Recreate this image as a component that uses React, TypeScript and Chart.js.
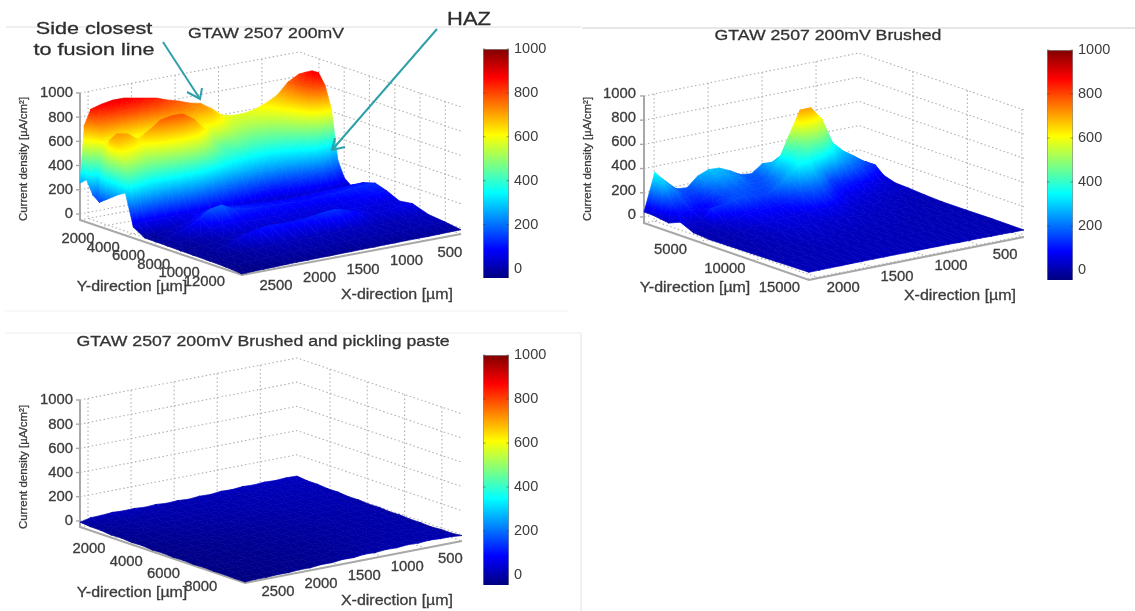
import { useEffect, useRef } from "react";
import { Chart, registerables } from "chart.js";

Chart.register(...registerables);

// ---------- data ----------
const Z_TICKS = [0, 200, 400, 600, 800, 1000];
const COLORBAR_TICKS = [0, 200, 400, 600, 800, 1000];

const P1_TITLE = "GTAW 2507 200mV";
const P1_X_TICKS = [500, 1000, 1500, 2000, 2500];
const P1_Y_TICKS = [2000, 4000, 6000, 8000, 10000, 12000];
const P1_X = [74, 200, 326, 452, 578, 704, 830, 955, 1081, 1207, 1333, 1459, 1585, 1711, 1837, 1963, 2089, 2215, 2341, 2467, 2543, 2593];
const P1_Y = [423, 936, 1449, 1961, 2474, 2987, 3500, 4013, 4654, 5551, 6448, 7346, 8371, 9397, 10679, 11961, 13243];
const P1_Z = [
  [818, 768, 677, 628, 595, 578, 578, 595, 669, 727, 747, 780, 806, 839, 856, 873, 890, 890, 875, 850, 727, 255],
  [850, 790, 680, 610, 575, 555, 555, 575, 640, 700, 715, 745, 760, 780, 790, 800, 810, 810, 800, 750, 500, 300],
  [880, 800, 670, 590, 545, 520, 520, 540, 590, 640, 650, 660, 670, 650, 620, 620, 600, 590, 600, 600, 200, 190],
  [884, 790, 640, 540, 490, 470, 465, 480, 520, 560, 590, 620, 660, 690, 700, 690, 640, 600, 640, 640, 500, 150],
  [800, 740, 590, 500, 440, 420, 410, 420, 450, 420, 480, 622, 722, 780, 781, 764, 699, 633, 700, 717, 680, 190],
  [620, 600, 490, 410, 360, 340, 330, 340, 360, 380, 420, 500, 600, 650, 660, 650, 600, 560, 620, 660, 650, 230],
  [214, 330, 360, 310, 270, 250, 240, 240, 260, 280, 310, 370, 450, 500, 510, 500, 470, 450, 500, 560, 560, 270],
  [86, 150, 190, 170, 150, 130, 110, 110, 130, 150, 170, 200, 230, 270, 290, 290, 280, 280, 320, 380, 420, 300],
  [33, 40, 50, 50, 50, 45, 40, 35, 35, 40, 50, 60, 65, 70, 70, 70, 70, 70, 70, 70, 60, 40],
  [103, 100, 95, 90, 85, 80, 80, 80, 85, 90, 95, 100, 110, 120, 115, 90, 50, 25, 10, -5, -15, -17],
  [130, 125, 118, 110, 105, 100, 95, 95, 100, 100, 105, 110, 120, 135, 185, 170, 110, 60, 25, 0, -15, -18],
  [100, 95, 85, 75, 65, 60, 55, 55, 55, 60, 60, 60, 60, 65, 80, 70, 45, 20, 0, -10, -18, -20],
  [50, 50, 50, 55, 60, 60, 55, 50, 45, 40, 35, 35, 30, 30, 25, 20, 5, -5, -12, -18, -20, -22],
  [65, 60, 50, 45, 50, 80, 110, 135, 130, 115, 105, 100, 100, 105, 95, 70, 35, 5, -10, -18, -22, -24],
  [20, 20, 15, 10, 10, 15, 20, 20, 20, 15, 15, 15, 15, 15, 10, 5, -5, -12, -18, -22, -24, -26],
  [5, 5, 3, 2, 0, 0, 0, 0, 0, 0, -2, -4, -5, -6, -8, -10, -14, -18, -22, -26, -28, -30],
  [-15, -16, -18, -20, -20, -20, -22, -22, -24, -24, -26, -26, -28, -28, -30, -30, -32, -34, -36, -38, -40, -42],
];

const P2_TITLE = "GTAW 2507 200mV Brushed";
const P2_X_TICKS = [500, 1000, 1500, 2000];
const P2_Y_TICKS = [5000, 10000, 15000];
const P2_X = [102, 202, 301, 401, 500, 600, 700, 799, 899, 998, 1098, 1198, 1297, 1397, 1496, 1596, 1696, 1795, 1895, 1994, 2094];
const P2_Y = [50, 808, 1565, 2323, 3383, 4595, 6110, 7625, 9898, 12170, 15200];
const P2_Z = [
  [120, 140, 170, 220, 260, 280, 280, 260, 240, 245, 180, 190, 240, 280, 285, 250, 170, 180, 260, 350, 40],
  [120, 150, 200, 280, 370, 450, 480, 430, 320, 270, 170, 170, 220, 250, 260, 220, 140, 150, 220, 300, 40],
  [121, 165, 230, 290, 375, 590, 700, 700, 512, 320, 190, 160, 180, 200, 210, 180, 110, 110, 150, 150, 30],
  [60, 100, 150, 200, 260, 380, 500, 520, 430, 310, 210, 160, 160, 170, 170, 150, 90, 70, 100, 80, 20],
  [30, 40, 60, 80, 100, 120, 150, 260, 350, 340, 260, 190, 150, 150, 165, 160, 130, 120, 40, 30, 60],
  [25, 28, 32, 40, 50, 60, 70, 110, 170, 190, 160, 120, 95, 90, 90, 80, 60, 40, 20, 10, 10],
  [15, 15, 18, 20, 25, 30, 35, 45, 60, 70, 70, 60, 55, 55, 55, 45, 30, 20, 10, 5, 0],
  [8, 10, 12, 15, 18, 20, 22, 25, 30, 35, 35, 35, 40, 40, 35, 30, 20, 15, 8, 5, 2],
  [8, 8, 10, 10, 12, 12, 15, 15, 18, 18, 18, 18, 20, 22, 20, 18, 12, 10, 8, 6, 5],
  [10, 8, 10, 10, 10, 12, 12, 12, 14, 14, 14, 14, 15, 15, 15, 12, 12, 10, 10, 8, 8],
  [8, 8, 10, 10, 12, 12, 12, 14, 14, 15, 15, 15, 16, 16, 16, 16, 16, 15, 15, 14, 14],
];

const P3_TITLE = "GTAW 2507 200mV Brushed and pickling paste";
const P3_X_TICKS = [500, 1000, 1500, 2000, 2500];
const P3_Y_TICKS = [2000, 4000, 6000, 8000];
const P3_X = [74, 200, 326, 452, 578, 704, 830, 955, 1081, 1207, 1333, 1459, 1585, 1711, 1837, 1963, 2089, 2215, 2341, 2467, 2593];
const P3_Y = [230, 783, 1336, 1889, 2443, 2996, 3549, 4102, 4655, 5208, 5761, 6314, 6868, 7421, 7974, 8527, 9080];
const P3_Z = [
  [24, 27, 22, 26, 20, 24, 16, 20, 10, 14, 6, 12, 8, 15, 10, 17, 14, 19, 12, 10, -10],
  [14, 13, 12, 11, 10, 9, 8, 7, 6, 5, 3, 2, 1, 0, -1, -3, -5, -8, -11, -15, -18],
  [14, 12, 11, 10, 9, 8, 7, 6, 5, 3, 2, 1, 0, -1, -3, -5, -7, -10, -13, -16, -20],
  [6, 10, 9, 8, 7, 6, 5, 4, 2, 1, 0, -2, -3, -5, -7, -9, -12, -15, -19, -24, -29],
  [7, 8, 7, 6, 5, 4, 3, 1, 0, -2, -3, -5, -7, -9, -11, -13, -15, -18, -20, -22, -26],
  [-2, 6, 5, 4, 3, 2, 0, -1, -3, -5, -7, -9, -11, -13, -15, -17, -20, -23, -26, -30, -33],
  [0, 4, 3, 2, 1, 0, -2, -4, -6, -8, -10, -12, -14, -16, -18, -20, -22, -24, -26, -27, -30],
  [-7, 3, 2, 0, -1, -3, -5, -7, -9, -11, -13, -15, -17, -19, -21, -23, -25, -28, -31, -35, -37],
  [-4, 2, 1, -1, -3, -5, -7, -9, -12, -14, -16, -18, -20, -22, -24, -26, -27, -28, -29, -30, -34],
  [-11, 1, 0, -2, -4, -6, -9, -11, -13, -15, -17, -19, -21, -23, -25, -27, -29, -32, -35, -38, -39],
  [-9, 0, -1, -3, -5, -8, -10, -12, -14, -16, -18, -20, -22, -24, -26, -28, -29, -30, -31, -32, -36],
  [-15, 0, -2, -3, -6, -8, -10, -12, -15, -17, -19, -21, -23, -25, -27, -29, -31, -34, -37, -40, -41],
  [-14, 1, -1, -2, -4, -6, -9, -12, -15, -18, -20, -22, -24, -26, -28, -30, -31, -32, -33, -34, -38],
  [-19, 2, 0, -1, -3, -5, -8, -11, -14, -17, -20, -23, -25, -27, -29, -31, -33, -35, -37, -40, -41],
  [-13, 3, 1, 0, -2, -4, -7, -10, -13, -16, -19, -22, -25, -28, -30, -32, -34, -35, -36, -37, -39],
  [-14, 4, 2, 2, -1, -2, -5, -8, -11, -14, -18, -22, -25, -28, -31, -33, -35, -37, -39, -41, -42],
  [-5, 3, 4, 9, 2, 6, -2, 1, -7, -4, -14, -12, -21, -20, -29, -28, -34, -33, -38, -37, -42],
];

const NOTE_FUSION = ["Side closest", "to fusion line"];
const NOTE_HAZ = "HAZ";
const Z_LABEL = "Current density [µA/cm²]";
const X_LABEL = "X-direction [µm]";
const Y_LABEL = "Y-direction [µm]";

// ---------- layout ----------
const W = 1135;
const H = 611;
const Z_FLOOR = -50;
const Z_TOP = 1000;
const Z_PX = 0.121;
const C_MIN = -45;
const C_MAX = 1000;
const INK = "#3c3c3c";
const FONT = '"Liberation Sans", Arial, sans-serif';
const SOFTEN = "blur(0.6px)";

const PANELS = [
  {
    title: P1_TITLE, titleAt: [266, 34], X: P1_X, Y: P1_Y, Z: P1_Z, xTicks: P1_X_TICKS, yTicks: P1_Y_TICKS,
    B: [299, 179], L: [80, 220], R: [461, 234],
    xMin: 74, xMax: 2593, yMin: 423, yMax: 13243,
    zLabelX: 73, zLabelDy: 0.5, zTitleAt: [24, 159], xOff: [26, 12.5], yOff: [-22, 12.5], xTitleAt: [397, 295], yTitleAt: [132, 287],
    bar: [483, 48.5, 278],
  },
  {
    title: P2_TITLE, titleAt: [828, 36], X: P2_X, Y: P2_Y, Z: P2_Z, xTicks: P2_X_TICKS, yTicks: P2_Y_TICKS,
    B: [859, 180], L: [644, 223], R: [1024, 237],
    xMin: 102, xMax: 2094, yMin: 50, yMax: 15200,
    zLabelX: 636, zLabelDy: -2, zTitleAt: [588, 159], xOff: [24, 9.7], yOff: [-27.5, 8.7], xTitleAt: [960, 296], yTitleAt: [695, 288],
    bar: [1047, 50, 280],
  },
  {
    title: P3_TITLE, titleAt: [263, 342], X: P3_X, Y: P3_Y, Z: P3_Z, xTicks: P3_X_TICKS, yTicks: P3_Y_TICKS,
    B: [297, 485], L: [80, 527], R: [462, 541],
    xMin: 74, xMax: 2593, yMin: 230, yMax: 9080,
    zLabelX: 73, zLabelDy: 0.5, zTitleAt: [24, 467], xOff: [25, 11], yOff: [-24, 11], xTitleAt: [397, 601], yTitleAt: [132, 593],
    bar: [483, 355, 585],
  },
];

const clamp01 = (v: number) => Math.max(0, Math.min(1, v));
const jet = (t: number) => {
  const r = clamp01(1.5 - Math.abs(4 * t - 3));
  const g = clamp01(1.5 - Math.abs(4 * t - 2));
  const b = clamp01(1.5 - Math.abs(4 * t - 1));
  return `rgb(${Math.round(r * 255)},${Math.round(g * 255)},${Math.round(b * 255)})`;
};
const colorT = (z: number) => clamp01((z - C_MIN) / (C_MAX - C_MIN));
const KNOTS = [0, 0.125, 0.375, 0.625, 0.875, 1];

type Pt = { x: number; y: number };

const project = (p: any, X: number, Y: number, Z: number): Pt => {
  const i = (X - p.xMin) / (p.xMax - p.xMin);
  const j = (Y - p.yMin) / (p.yMax - p.yMin);
  return {
    x: p.B[0] + i * (p.L[0] - p.B[0]) + j * (p.R[0] - p.B[0]),
    y: p.B[1] + i * (p.L[1] - p.B[1]) + j * (p.R[1] - p.B[1]) - (Z - Z_FLOOR) * Z_PX,
  };
};

const lineSet = (data: Pt[], color: string, width: number, dash: number[] = []) => ({
  type: "scatter",
  data,
  showLine: true,
  fill: false,
  borderColor: color,
  borderWidth: width,
  borderDash: dash,
  tension: 0,
  pointRadius: 0,
  pointHoverRadius: 0,
  pointBackgroundColor: "transparent",
  pointBorderColor: "transparent",
  clip: false,
});

// a triangle whose fill runs along the true colour gradient of its three z values
const triSet = (pts: Pt[], zs: number[]) => {
  let cached: any = null;
  const paint = (c: any) => {
    if (cached) return cached;
    const chart = c.chart;
    const fallback = jet(colorT((zs[0] + zs[1] + zs[2]) / 3));
    if (!chart.chartArea) return fallback;
    const sx = chart.scales.x;
    const sy = chart.scales.y;
    const px = pts.map((q) => sx.getPixelForValue(q.x));
    const py = pts.map((q) => sy.getPixelForValue(q.y));
    const d = (px[1] - px[0]) * (py[2] - py[0]) - (px[2] - px[0]) * (py[1] - py[0]);
    const zLo = Math.min(...zs);
    const zHi = Math.max(...zs);
    if (Math.abs(d) < 1e-3 || zHi - zLo < 0.5) {
      cached = fallback;
      return cached;
    }
    const a = ((zs[1] - zs[0]) * (py[2] - py[0]) - (zs[2] - zs[0]) * (py[1] - py[0])) / d;
    const b = ((px[1] - px[0]) * (zs[2] - zs[0]) - (px[2] - px[0]) * (zs[1] - zs[0])) / d;
    const n = a * a + b * b;
    const k = zs.indexOf(zLo);
    const x0 = px[k];
    const y0 = py[k];
    const x1 = x0 + ((zHi - zLo) * a) / n;
    const y1 = y0 + ((zHi - zLo) * b) / n;
    const g = chart.ctx.createLinearGradient(x0, y0, x1, y1);
    const tLo = colorT(zLo);
    const tHi = colorT(zHi);
    g.addColorStop(0, jet(tLo));
    if (tHi > tLo) {
      KNOTS.forEach((t) => {
        if (t > tLo && t < tHi) g.addColorStop((t - tLo) / (tHi - tLo), jet(t));
      });
    }
    g.addColorStop(1, jet(tHi));
    cached = g;
    return cached;
  };
  return {
    type: "scatter",
    data: [...pts, pts[0]],
    showLine: true,
    fill: "shape",
    backgroundColor: paint,
    borderColor: paint,
    borderWidth: 0.7,
    tension: 0,
    pointRadius: 0,
    pointHoverRadius: 0,
    pointBackgroundColor: "transparent",
    pointBorderColor: "transparent",
    clip: false,
  };
};

const GRID = "#b0b0b0";
const GRID_DASH = [1.5, 2.5];
const AXIS = "#a8a8a8";

const panelSets = (p: any) => {
  const back: any[] = [];
  const end = (X: number, Y: number, Z: number) => project(p, X, Y, Z);
  // wall and floor grids
  Z_TICKS.forEach((z) => {
    back.push(lineSet([end(p.xMax, p.yMin, z), end(p.xMin, p.yMin, z), end(p.xMin, p.yMax, z)], GRID, 1.1, GRID_DASH));
  });
  p.xTicks.forEach((x: number) => {
    back.push(lineSet([end(x, p.yMin, Z_TOP), end(x, p.yMin, Z_FLOOR), end(x, p.yMax, Z_FLOOR)], GRID, 1.1, GRID_DASH));
  });
  p.yTicks.forEach((y: number) => {
    back.push(lineSet([end(p.xMin, y, Z_TOP), end(p.xMin, y, Z_FLOOR), end(p.xMax, y, Z_FLOOR)], GRID, 1.1, GRID_DASH));
  });
  back.push(lineSet([end(p.xMax, p.yMin, Z_FLOOR), end(p.xMin, p.yMin, Z_FLOOR), end(p.xMin, p.yMax, Z_FLOOR)], GRID, 1.1, GRID_DASH));
  // axis frame
  back.push(lineSet([end(p.xMax, p.yMin, Z_TOP), end(p.xMax, p.yMin, Z_FLOOR), end(p.xMax, p.yMax, Z_FLOOR), end(p.xMin, p.yMax, Z_FLOOR)], AXIS, 2));
  Z_TICKS.forEach((z) => {
    const a = end(p.xMax, p.yMin, z);
    back.push(lineSet([a, { x: a.x - 4, y: a.y }], AXIS, 1.4));
  });
  // surface, far corner first
  for (let j = 0; j < p.Y.length - 1; j++) {
    for (let i = 0; i < p.X.length - 1; i++) {
      const a = end(p.X[i], p.Y[j], p.Z[j][i]);
      const b = end(p.X[i + 1], p.Y[j], p.Z[j][i + 1]);
      const c = end(p.X[i + 1], p.Y[j + 1], p.Z[j + 1][i + 1]);
      const d = end(p.X[i], p.Y[j + 1], p.Z[j + 1][i]);
      back.push(triSet([a, b, c], [p.Z[j][i], p.Z[j][i + 1], p.Z[j + 1][i + 1]]));
      back.push(triSet([a, c, d], [p.Z[j][i], p.Z[j + 1][i + 1], p.Z[j + 1][i]]));
    }
  }
  return back;
};

const TEAL = "#2fa0aa";
const frameSets = () => [
  lineSet([{ x: 6, y: 27 }, { x: 581, y: 27 }], "#dedede", 1),
  lineSet([{ x: 582, y: 28 }, { x: 1135, y: 28 }], "#cfcfcf", 1),
  lineSet([{ x: 5, y: 311 }, { x: 569, y: 311 }], "#f2f2f2", 1),
  lineSet([{ x: 5, y: 333 }, { x: 581, y: 333 }, { x: 581, y: 611 }], "#eeeeee", 1),
];
const overlaySets = () => [
  lineSet([{ x: 163, y: 42 }, { x: 200, y: 99 }], TEAL, 2),
  lineSet([{ x: 187, y: 92 }, { x: 200, y: 99 }, { x: 202, y: 88 }], TEAL, 2),
  lineSet([{ x: 437, y: 29 }, { x: 332, y: 150 }], TEAL, 2),
  lineSet([{ x: 345, y: 147 }, { x: 332, y: 150 }, { x: 335, y: 138 }], TEAL, 2),
];

type Label = { t: string; x: number; y: number; size: number; sx?: number; align?: CanvasTextAlign; rot?: number; color?: string };

const panelLabels = (p: any): Label[] => {
  const out: Label[] = [];
  out.push({ t: p.title, x: p.titleAt[0], y: p.titleAt[1], size: 15.5, sx: 1.14, color: "#333" });
  Z_TICKS.forEach((z) => {
    const a = project(p, p.xMax, p.yMin, z);
    out.push({ t: String(z), x: p.zLabelX, y: a.y + p.zLabelDy, size: 14, sx: 1.06, align: "right" });
  });
  p.xTicks.forEach((x: number) => {
    const a = project(p, x, p.yMax, Z_FLOOR);
    out.push({ t: String(x), x: a.x + p.xOff[0], y: a.y + p.xOff[1], size: 14, sx: 1.06 });
  });
  p.yTicks.forEach((y: number) => {
    const a = project(p, p.xMax, y, Z_FLOOR);
    out.push({ t: String(y), x: a.x + p.yOff[0], y: a.y + p.yOff[1], size: 14, sx: 1.06 });
  });
  out.push({ t: X_LABEL, x: p.xTitleAt[0], y: p.xTitleAt[1], size: 14, sx: 1.14 });
  out.push({ t: Y_LABEL, x: p.yTitleAt[0], y: p.yTitleAt[1], size: 14, sx: 1.14 });
  out.push({ t: Z_LABEL, x: p.zTitleAt[0], y: p.zTitleAt[1], size: 11.5, rot: -Math.PI / 2 });
  return out;
};

const labelPlugin = (labels: Label[]) => ({
  id: "labels3d",
  afterDatasetsDraw(chart: any) {
    const { ctx, scales } = chart;
    labels.forEach((l) => {
      ctx.save();
      ctx.translate(scales.x.getPixelForValue(l.x), scales.y.getPixelForValue(l.y));
      if (l.rot) ctx.rotate(l.rot);
      ctx.scale(l.sx ?? 1, 1);
      ctx.font = `${l.size}px ${FONT}`;
      ctx.fillStyle = l.color ?? INK;
      ctx.strokeStyle = l.color ?? INK;
      ctx.lineWidth = 0.3;
      ctx.textAlign = l.align ?? "center";
      ctx.textBaseline = "middle";
      ctx.fillText(l.t, 0, 0);
      ctx.strokeText(l.t, 0, 0);
      ctx.restore();
    });
  },
});

const barTickPlugin = {
  id: "barTicks",
  afterDatasetsDraw(chart: any) {
    const { ctx, chartArea, scales } = chart;
    ctx.save();
    ctx.strokeStyle = "rgba(50,50,50,0.45)";
    ctx.lineWidth = 1;
    COLORBAR_TICKS.forEach((v) => {
      const y = scales.y.getPixelForValue(v);
      ctx.beginPath();
      ctx.moveTo(chartArea.left, y);
      ctx.lineTo(chartArea.left + 2.5, y);
      ctx.moveTo(chartArea.right, y);
      ctx.lineTo(chartArea.right - 2.5, y);
      ctx.stroke();
    });
    ctx.restore();
  },
};

function ColorBar({ left, top, bottom }: { left: number; top: number; bottom: number }) {
  const ref = useRef<HTMLCanvasElement>(null);
  useEffect(() => {
    const pad = 9;
    const barW = 26;
    const span = bottom - top;
    const lowest = C_MAX - (span / 220) * C_MAX;
    const paint = (c: any) => {
      const chart = c.chart;
      if (!chart.chartArea) return "#000080";
      const s = chart.scales.y;
      const g = chart.ctx.createLinearGradient(0, s.getPixelForValue(C_MIN), 0, s.getPixelForValue(C_MAX));
      KNOTS.forEach((t) => g.addColorStop(t, jet(t)));
      return g;
    };
    const chart = new Chart(ref.current as any, {
      type: "bar",
      data: {
        labels: ["scale"],
        datasets: [{ data: [[lowest, C_MAX]], backgroundColor: paint, borderColor: "#8a8a8a", borderWidth: 1, barPercentage: 1, categoryPercentage: 1 }],
      } as any,
      plugins: [barTickPlugin],
      options: {
        animation: false,
        responsive: false,
        devicePixelRatio: 1,
        events: [],
        layout: { padding: { top: pad, bottom: pad, left: 0, right: 0 } },
        plugins: { legend: { display: false }, tooltip: { enabled: false }, title: { display: false } },
        scales: {
          x: { display: false },
          y: {
            position: "right",
            min: lowest,
            max: C_MAX,
            afterFit: (s: any) => {
              s.width = 80 - barW;
              s.paddingTop = 0;
              s.paddingBottom = 0;
            },
            afterBuildTicks: (s: any) => {
              s.ticks = COLORBAR_TICKS.map((value) => ({ value }));
            },
            grid: { display: false, drawTicks: false },
            border: { display: false },
            ticks: { color: INK, padding: 5, font: { family: FONT, size: 14.5 }, callback: (v: any) => String(v) },
          },
        },
      } as any,
    });
    return () => chart.destroy();
  }, [left, top, bottom]);
  return (
    <canvas
      ref={ref}
      width={80}
      height={bottom - top + 18}
      style={{ position: "absolute", left, top: top - 9, width: 80, height: bottom - top + 18, filter: SOFTEN }}
    />
  );
}

export default function App() {
  const ref = useRef<HTMLCanvasElement>(null);
  useEffect(() => {
    const painted: any[] = [...frameSets()];
    PANELS.forEach((p) => painted.push(...panelSets(p)));
    painted.push(...overlaySets());
    // Chart.js paints the first dataset last, so the far-to-near list is reversed
    const datasets = painted.reverse();
    const labels: Label[] = [];
    PANELS.forEach((p) => labels.push(...panelLabels(p)));
    labels.push({ t: NOTE_FUSION[0], x: 94, y: 29.5, size: 17, sx: 1.27, color: "#2e2e2e" });
    labels.push({ t: NOTE_FUSION[1], x: 94, y: 50, size: 17, sx: 1.27, color: "#2e2e2e" });
    labels.push({ t: NOTE_HAZ, x: 469, y: 20, size: 18, sx: 1.22, color: "#2e2e2e" });
    const chart = new Chart(ref.current as any, {
      type: "scatter",
      data: { datasets } as any,
      plugins: [labelPlugin(labels)],
      options: {
        animation: false,
        responsive: false,
        devicePixelRatio: 1,
        events: [],
        layout: { padding: 0 },
        plugins: { legend: { display: false }, tooltip: { enabled: false }, title: { display: false } },
        scales: {
          x: { type: "linear", min: 0, max: W, display: false },
          y: { type: "linear", min: 0, max: H, reverse: true, display: false },
        },
      } as any,
    });
    return () => chart.destroy();
  }, []);
  return (
    <div style={{ position: "fixed", left: 0, top: 0, width: W, height: H, background: "#fff", overflow: "hidden" }}>
      <canvas ref={ref} width={W} height={H} style={{ position: "absolute", left: 0, top: 0, width: W, height: H, filter: SOFTEN }} />
      {PANELS.map((p) => (
        <ColorBar key={p.title} left={p.bar[0]} top={p.bar[1]} bottom={p.bar[2]} />
      ))}
    </div>
  );
}
